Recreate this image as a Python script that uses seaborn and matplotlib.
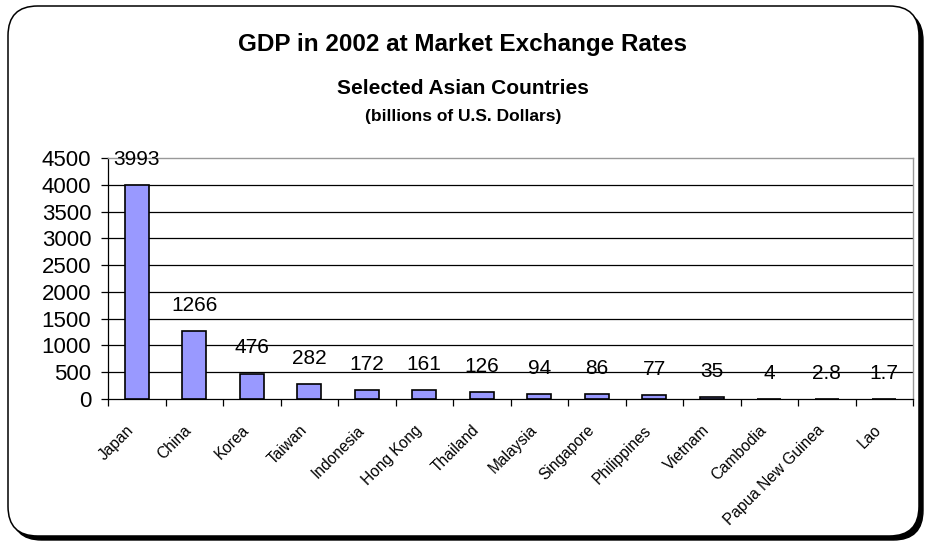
import matplotlib
matplotlib.use("Agg")
import matplotlib.pyplot as plt
import matplotlib.transforms as mtransforms
import seaborn as sns
import pandas as pd
import numpy as np
from matplotlib.patches import FancyBboxPatch
from matplotlib.ticker import FixedLocator

countries = ["Japan", "China", "Korea", "Taiwan", "Indonesia", "Hong Kong", "Thailand",
             "Malaysia", "Singapore", "Philippines", "Vietnam", "Cambodia",
             "Papua New Guinea", "Lao"]
gdp = [3993, 1266, 476, 282, 172, 161, 126, 94, 86, 77, 35, 4, 2.8, 1.7]
value_labels = ["3993", "1266", "476", "282", "172", "161", "126", "94", "86", "77", "35", "4", "2.8", "1.7"]
yticks = [0, 500, 1000, 1500, 2000, 2500, 3000, 3500, 4000, 4500]

sns.set_theme(style="white")
plt.rcParams['font.family'] = ['Liberation Sans', 'DejaVu Sans']
plt.rcParams['text.color'] = 'black'
plt.rcParams['xtick.color'] = 'black'
plt.rcParams['ytick.color'] = 'black'

W, H = 926, 542
fig = plt.figure(figsize=(W / 100, H / 100), dpi=100)

# rounded frame with shadow (right/bottom)
shadow = FancyBboxPatch((12 / W, 2 / H), 911 / W, 529 / H,
                        boxstyle="round,pad=0,rounding_size=0.032",
                        transform=fig.transFigure, facecolor="black", edgecolor="black",
                        linewidth=1, zorder=-2, mutation_aspect=W / H)
frame = FancyBboxPatch((8 / W, 6 / H), 911 / W, 530 / H,
                       boxstyle="round,pad=0,rounding_size=0.032",
                       transform=fig.transFigure, facecolor="white", edgecolor="black",
                       linewidth=1.1, zorder=-1, mutation_aspect=W / H)
fig.patches.extend([shadow, frame])

ax = fig.add_axes([108 / W, (H - 399) / H, (913 - 108) / W, (399 - 158) / H])
ax.set_facecolor("none")

df = pd.DataFrame({"country": countries, "gdp": gdp})
sns.barplot(data=df, x="country", y="gdp", ax=ax, color="#9999FF", saturation=1,
            width=0.42, edgecolor="black", linewidth=1.2, zorder=3)

ax.set_ylim(0, 4500)
ax.set_xlim(-0.5, len(countries) - 0.5)
ax.set_yticks(yticks)
ax.set_yticklabels([str(t) for t in yticks], fontsize=16)
for t in yticks[1:-1]:
    ax.axhline(t, color="black", linewidth=0.9, zorder=1)

ax.set_xlabel("")
ax.set_ylabel("")
ax.set_xticks(range(len(countries)))
ax.set_xticklabels(countries, rotation=45, ha="right", va="center_baseline",
                   rotation_mode="anchor", fontsize=11.2)
ax.tick_params(axis="x", which="major", length=0, pad=20)
shift = mtransforms.ScaledTranslation(-6 / 100, 0, fig.dpi_scale_trans)
for lbl in ax.get_xticklabels():
    lbl.set_transform(lbl.get_transform() + shift)
ax.xaxis.set_minor_locator(FixedLocator(np.arange(-0.5, len(countries), 1.0)))
ax.tick_params(axis="x", which="minor", length=5, width=0.9, color="black", bottom=True)
ax.tick_params(axis="y", which="major", length=5, width=0.9, color="black", left=True, pad=7)

for s in ["left", "bottom"]:
    ax.spines[s].set_color("black")
    ax.spines[s].set_linewidth(0.9)
for s in ["top", "right"]:
    ax.spines[s].set_color("#999999")
    ax.spines[s].set_linewidth(1.0)

for i, (v, lab) in enumerate(zip(gdp, value_labels)):
    ax.annotate(lab, (i, v), xytext=(0, 18.5), textcoords="offset points",
                ha="center", va="center", fontsize=15, color="black", zorder=5)

fig.text(0.5, 1 - 45 / H, "GDP in 2002 at Market Exchange Rates", ha="center", va="center",
         fontsize=17.5, fontweight="bold")
fig.text(0.5, 1 - 88 / H, "Selected Asian Countries", ha="center", va="center",
         fontsize=15, fontweight="bold")
fig.text(0.5, 1 - 117 / H, "(billions of U.S. Dollars)", ha="center", va="center",
         fontsize=12.5, fontweight="bold")

fig.savefig("out.png", dpi=100)
